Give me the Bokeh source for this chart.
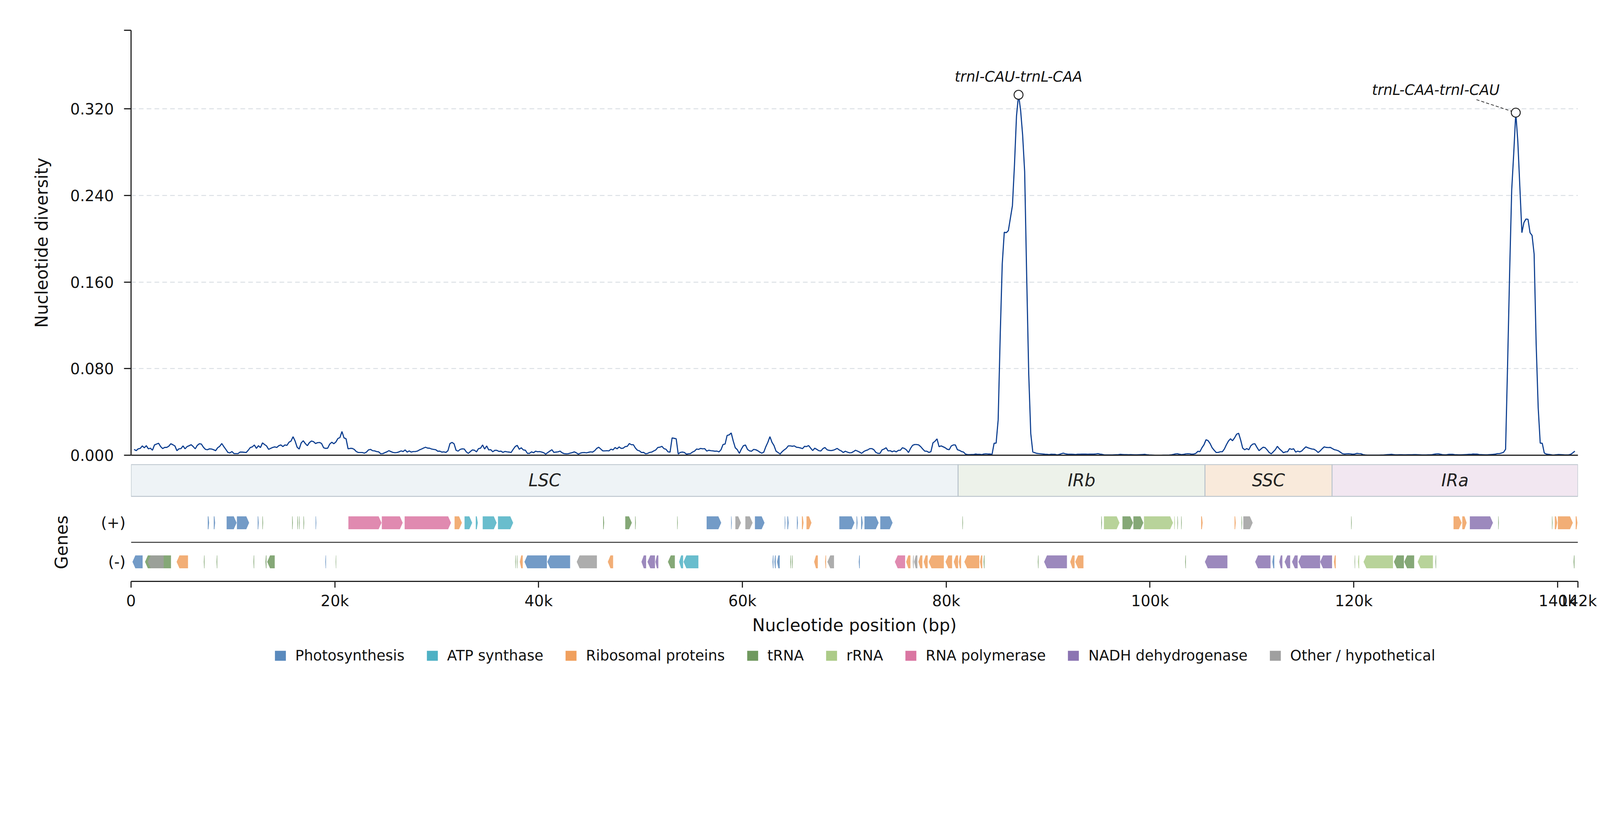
import numpy as np
from bokeh.core.properties import value
from bokeh.embed import file_html
from bokeh.layouts import column
from bokeh.models import (FixedTicker, Label, Legend, LegendItem,
                          NumeralTickFormatter, Range1d, Span)
from bokeh.plotting import figure
from bokeh.resources import INLINE

FONT = "DejaVu Sans"

### data

genome_len = 142000
win_first = 300      # centre of the first sliding window (bp)
win_step = 200       # window step (bp)

diversity = [
    # LSC 0-28k
    0.0054, 0.0042, 0.0059, 0.0063, 0.0086, 0.0069, 0.0088, 0.0059, 0.0065, 0.0046,
    0.0095, 0.0103, 0.0111, 0.0080, 0.0061, 0.0072, 0.0072, 0.0083, 0.0106, 0.0097,
    0.0086, 0.0042, 0.0059, 0.0061, 0.0086, 0.0059, 0.0080, 0.0088, 0.0097, 0.0080,
    0.0059, 0.0091, 0.0106, 0.0103, 0.0074, 0.0054, 0.0051, 0.0059, 0.0057, 0.0051,
    0.0042, 0.0069, 0.0082, 0.0108, 0.0080, 0.0054, 0.0026, 0.0021, 0.0034, 0.0015,
    0.0015, 0.0015, 0.0029, 0.0029, 0.0027, 0.0025, 0.0046, 0.0071, 0.0077, 0.0095,
    0.0063, 0.0088, 0.0071, 0.0114, 0.0099, 0.0086, 0.0054, 0.0063, 0.0072, 0.0077,
    0.0072, 0.0088, 0.0095, 0.0080, 0.0095, 0.0091, 0.0120, 0.0131, 0.0171, 0.0131,
    0.0074, 0.0057, 0.0114, 0.0134, 0.0108, 0.0088, 0.0116, 0.0131, 0.0126, 0.0108,
    0.0116, 0.0118, 0.0108, 0.0069, 0.0063, 0.0065, 0.0103, 0.0120, 0.0106, 0.0122,
    0.0154, 0.0163, 0.0219, 0.0160, 0.0152, 0.0059, 0.0063, 0.0063, 0.0054, 0.0034,
    0.0025, 0.0025, 0.0025, 0.0019, 0.0029, 0.0049, 0.0054, 0.0042, 0.0040, 0.0034,
    0.0031, 0.0014, 0.0015, 0.0023, 0.0031, 0.0042, 0.0034, 0.0026, 0.0023, 0.0025,
    0.0031, 0.0040, 0.0034, 0.0049, 0.0029, 0.0040, 0.0029, 0.0034, 0.0034, 0.0038,
    0.0049,
    # LSC 28.5k-56.5k
    0.0057, 0.0066, 0.0074, 0.0066, 0.0065, 0.0057, 0.0054, 0.0051, 0.0037, 0.0038,
    0.0029, 0.0031, 0.0026, 0.0042, 0.0108, 0.0118, 0.0106, 0.0045, 0.0038, 0.0054,
    0.0059, 0.0057, 0.0031, 0.0017, 0.0034, 0.0049, 0.0046, 0.0031, 0.0061, 0.0065,
    0.0095, 0.0057, 0.0086, 0.0049, 0.0051, 0.0032, 0.0045, 0.0045, 0.0035, 0.0038,
    0.0026, 0.0035, 0.0031, 0.0029, 0.0025, 0.0054, 0.0080, 0.0091, 0.0055, 0.0069,
    0.0049, 0.0046, 0.0017, 0.0017, 0.0031, 0.0023, 0.0037, 0.0032, 0.0034, 0.0029,
    0.0023, 0.0010, 0.0025, 0.0038, 0.0051, 0.0026, 0.0029, 0.0031, 0.0038, 0.0023,
    0.0015, 0.0013, 0.0014, 0.0019, 0.0024, 0.0031, 0.0022, 0.0010, 0.0019, 0.0024,
    0.0025, 0.0022, 0.0027, 0.0031, 0.0029, 0.0042, 0.0063, 0.0074, 0.0057, 0.0040,
    0.0040, 0.0042, 0.0040, 0.0056, 0.0049, 0.0071, 0.0059, 0.0077, 0.0063, 0.0065,
    0.0080, 0.0082, 0.0108, 0.0097, 0.0097, 0.0066, 0.0046, 0.0040, 0.0025, 0.0026,
    0.0013, 0.0017, 0.0026, 0.0029, 0.0040, 0.0049, 0.0072, 0.0074, 0.0082, 0.0061,
    0.0055, 0.0031, 0.0029, 0.0160, 0.0156, 0.0152, 0.0011, 0.0026, 0.0029, 0.0026,
    0.0010, 0.0013, 0.0015, 0.0029, 0.0038, 0.0057, 0.0054, 0.0063, 0.0059, 0.0061,
    0.0038,
    # LSC 56.7k-84.5k
    0.0046, 0.0042, 0.0040, 0.0037, 0.0038, 0.0031, 0.0051, 0.0099, 0.0103, 0.0183,
    0.0188, 0.0206, 0.0131, 0.0069, 0.0051, 0.0017, 0.0057, 0.0088, 0.0094, 0.0054,
    0.0040, 0.0037, 0.0054, 0.0051, 0.0042, 0.0029, 0.0019, 0.0029, 0.0079, 0.0120,
    0.0171, 0.0120, 0.0089, 0.0038, 0.0025, 0.0011, 0.0033, 0.0049, 0.0063, 0.0086,
    0.0086, 0.0083, 0.0086, 0.0074, 0.0072, 0.0067, 0.0061, 0.0082, 0.0080, 0.0089,
    0.0065, 0.0043, 0.0065, 0.0054, 0.0042, 0.0039, 0.0061, 0.0071, 0.0051, 0.0045,
    0.0043, 0.0046, 0.0053, 0.0063, 0.0049, 0.0040, 0.0025, 0.0037, 0.0029, 0.0022,
    0.0023, 0.0033, 0.0046, 0.0038, 0.0029, 0.0017, 0.0033, 0.0043, 0.0049, 0.0061,
    0.0061, 0.0051, 0.0026, 0.0017, 0.0017, 0.0049, 0.0057, 0.0069, 0.0040, 0.0042,
    0.0032, 0.0040, 0.0031, 0.0045, 0.0046, 0.0069, 0.0063, 0.0049, 0.0025, 0.0063,
    0.0091, 0.0099, 0.0099, 0.0095, 0.0079, 0.0057, 0.0038, 0.0037, 0.0026, 0.0033,
    0.0114, 0.0129, 0.0151, 0.0079, 0.0086, 0.0078, 0.0069, 0.0055, 0.0051, 0.0086,
    0.0095, 0.0095, 0.0051, 0.0045, 0.0034, 0.0029, 0.0010, 0.0006, 0.0006, 0.0007,
    0.0007, 0.0011, 0.0008, 0.0008, 0.0006, 0.0011, 0.0013, 0.0011, 0.0011, 0.0008,
    # IRb peak 84.7k-88.5k
    0.0110, 0.0112, 0.0326, 0.1100, 0.1766, 0.2060, 0.2056, 0.2075, 0.2190, 0.2306,
    0.2680, 0.3134, 0.3330, 0.3190, 0.2960, 0.2620, 0.1650, 0.0750, 0.0200, 0.0030,
    # IRb / SSC 88.7k-113.3k
    0.0023, 0.0017, 0.0015, 0.0013, 0.0011, 0.0009, 0.0008, 0.0006, 0.0009, 0.0008,
    0.0008, 0.0003, 0.0008, 0.0014, 0.0019, 0.0013, 0.0010, 0.0009, 0.0009, 0.0008,
    0.0007, 0.0009, 0.0009, 0.0010, 0.0010, 0.0010, 0.0009, 0.0010, 0.0010, 0.0010,
    0.0012, 0.0015, 0.0010, 0.0008, 0.0004, 0.0003, 0.0003, 0.0003, 0.0003, 0.0004,
    0.0005, 0.0006, 0.0008, 0.0007, 0.0006, 0.0006, 0.0005, 0.0006, 0.0005, 0.0004,
    0.0004, 0.0005, 0.0006, 0.0007, 0.0008, 0.0005, 0.0003, 0.0002, 0.0001, 0.0000,
    0.0000, 0.0000, 0.0000, 0.0001, 0.0001, 0.0001, 0.0002, 0.0004, 0.0008, 0.0012,
    0.0014, 0.0009, 0.0006, 0.0008, 0.0012, 0.0014, 0.0013, 0.0009, 0.0011, 0.0017,
    0.0036, 0.0033, 0.0069, 0.0097, 0.0143, 0.0135, 0.0108, 0.0069, 0.0046, 0.0025,
    0.0026, 0.0032, 0.0032, 0.0057, 0.0097, 0.0131, 0.0152, 0.0134, 0.0160, 0.0194,
    0.0203, 0.0140, 0.0065, 0.0050, 0.0061, 0.0050, 0.0088, 0.0103, 0.0106, 0.0072,
    0.0042, 0.0058, 0.0074, 0.0070, 0.0049, 0.0025, 0.0013, 0.0032, 0.0051, 0.0082,
    0.0059, 0.0042, 0.0023, 0.0031,
    # SSC / IRa 113.5k-134.5k
    0.0032, 0.0061, 0.0054, 0.0060, 0.0029, 0.0038, 0.0031, 0.0040, 0.0060, 0.0077,
    0.0069, 0.0063, 0.0057, 0.0055, 0.0043, 0.0025, 0.0040, 0.0060, 0.0077, 0.0072,
    0.0071, 0.0072, 0.0061, 0.0051, 0.0047, 0.0040, 0.0027, 0.0014, 0.0011, 0.0013,
    0.0014, 0.0012, 0.0009, 0.0011, 0.0017, 0.0015, 0.0014, 0.0006, 0.0003, 0.0001,
    0.0001, 0.0001, 0.0001, 0.0001, 0.0001, 0.0001, 0.0002, 0.0002, 0.0004, 0.0006,
    0.0007, 0.0008, 0.0006, 0.0004, 0.0004, 0.0005, 0.0005, 0.0004, 0.0004, 0.0005,
    0.0005, 0.0005, 0.0006, 0.0006, 0.0005, 0.0004, 0.0003, 0.0003, 0.0003, 0.0004,
    0.0004, 0.0006, 0.0009, 0.0012, 0.0013, 0.0009, 0.0006, 0.0004, 0.0005, 0.0008,
    0.0008, 0.0008, 0.0006, 0.0005, 0.0004, 0.0004, 0.0005, 0.0006, 0.0007, 0.0008,
    0.0008, 0.0011, 0.0010, 0.0010, 0.0007, 0.0006, 0.0005, 0.0004, 0.0004, 0.0006,
    0.0007, 0.0008, 0.0010, 0.0015, 0.0015, 0.0020,
    # IRa peak 134.7k-138.7k
    0.0027, 0.0055, 0.0850, 0.1700, 0.2450, 0.2790, 0.3165, 0.2900, 0.2480, 0.2056,
    0.2150, 0.2182, 0.2180, 0.2056, 0.2030, 0.1860, 0.1030, 0.0440, 0.0112, 0.0110,
    0.0020,
    # IRa end
    0.0011, 0.0008, 0.0006, 0.0002, 0.0003, 0.0005, 0.0007, 0.0006, 0.0005, 0.0003,
    0.0003, 0.0004, 0.0009, 0.0022, 0.0038,
]

region_names = ["LSC", "IRb", "SSC", "IRa"]
region_start = [0, 81170, 105400, 117870]
region_end = [81170, 105400, 117870, 142000]
region_fill = ["#eef3f6", "#edf2ea", "#f9eadb", "#f2e7f1"]

categories = ["Photosynthesis", "ATP synthase", "Ribosomal proteins", "tRNA",
              "rRNA", "RNA polymerase", "NADH dehydrogenase", "Other / hypothetical"]
cat_codes = ["PS", "ATP", "RP", "TRNA", "RRNA", "RPO", "NDH", "OTH"]
cat_colors = ["#5a8abd", "#4fb1c4", "#f0a05e", "#70995f",
              "#accb88", "#da76a2", "#8b74b2", "#9f9f9f"]

plus_start = [7530, 8120, 9380, 10390, 12430, 12890, 15810, 16330, 16500, 16920,
              18110, 21330, 24610, 26850, 31750, 32730, 33830, 34510, 36010, 46330,
              48500, 49470, 53600, 56490, 58890, 59310, 60290, 61230, 64150, 64410,
              65350, 65840, 66290, 69510, 71200, 71650, 71980, 73530, 81590, 95220,
              95480, 97300, 98370, 99410, 102380, 102690, 103060, 105020, 108300, 108980,
              109160, 119740, 129790, 130650, 131390, 134180, 139450, 139730, 140030, 141780]
plus_end = [7660, 8250, 10360, 11590, 12530, 12960, 15880, 16400, 16560, 16990,
            18180, 24580, 26660, 31400, 32470, 33480, 34030, 35880, 37500, 46430,
            49150, 49540, 53660, 57920, 58960, 59860, 61000, 62170, 64220, 64540,
            65450, 66000, 66780, 71000, 71300, 71810, 73370, 74740, 81650, 95290,
            97010, 98340, 99350, 102260, 102450, 102750, 103120, 105170, 108420, 109040,
            110080, 119800, 130590, 131080, 133660, 134240, 139510, 139970, 141500, 141950]
plus_cat = ["PS", "PS", "PS", "PS", "PS", "TRNA", "TRNA", "TRNA", "TRNA", "TRNA",
            "PS", "RPO", "RPO", "RPO", "RP", "ATP", "ATP", "ATP", "ATP", "TRNA",
            "TRNA", "TRNA", "TRNA", "PS", "PS", "OTH", "OTH", "PS", "PS", "PS",
            "PS", "RP", "RP", "PS", "PS", "PS", "PS", "PS", "TRNA", "TRNA",
            "RRNA", "TRNA", "TRNA", "RRNA", "RRNA", "TRNA", "TRNA", "RP", "RP", "TRNA",
            "OTH", "TRNA", "RP", "RP", "NDH", "TRNA", "TRNA", "RP", "RP", "RP"]

minus_start = [140, 1370, 1645, 4470, 7140, 8390, 12010, 13190, 13360, 19060,
               20080, 37700, 37860, 38150, 38610, 40850, 43740, 46790, 50090, 50680,
               51460, 52690, 53790, 54220, 62950, 63140, 63400, 64700, 64860, 67040,
               68110, 68340, 71420, 74960, 76070, 76720, 76850, 77270, 77790, 78280,
               79930, 80740, 81230, 81780, 83310, 83670, 88990, 89610, 92170, 92660,
               103450, 105390, 110320, 112010, 112690, 113210, 113940, 114560, 116700, 118050,
               120080, 120410, 120960, 123940, 124950, 126270, 128010, 141570]
minus_end = [1135, 3920, 3200, 5590, 7210, 8460, 12080, 13290, 14100, 19130,
             20130, 37760, 37920, 38440, 40810, 43090, 45720, 47310, 50550, 51420,
             51750, 53370, 54180, 55680, 63050, 63270, 63660, 64770, 64930, 67400,
             68210, 68990, 71520, 75970, 76490, 76810, 77170, 77660, 78180, 79770,
             80580, 81170, 81460, 83250, 83540, 83760, 89060, 91850, 92600, 93470,
             103520, 107600, 111830, 112200, 112990, 113760, 114490, 116700, 117870, 118230,
             120130, 120530, 123850, 124920, 125930, 127770, 128080, 141660]
minus_cat = ["PS", "TRNA", "OTH", "RP", "TRNA", "TRNA", "TRNA", "TRNA", "TRNA", "PS",
             "TRNA", "TRNA", "TRNA", "RP", "PS", "PS", "OTH", "RP", "NDH", "NDH",
             "NDH", "TRNA", "ATP", "ATP", "PS", "PS", "PS", "TRNA", "TRNA", "RP",
             "RP", "OTH", "PS", "RPO", "RP", "OTH", "OTH", "RP", "RP", "RP",
             "RP", "RP", "RP", "RP", "RP", "TRNA", "TRNA", "NDH", "RP", "RP",
             "TRNA", "NDH", "NDH", "PS", "NDH", "NDH", "NDH", "NDH", "NDH", "RP",
             "TRNA", "RRNA", "RRNA", "TRNA", "TRNA", "RRNA", "TRNA", "TRNA"]

x_ticks = [0, 20000, 40000, 60000, 80000, 100000, 120000, 140000, 142000]
x_tick_labels = ["0", "20k", "40k", "60k", "80k", "100k", "120k", "140k", "142k"]
y_ticks = [0.0, 0.08, 0.16, 0.24, 0.32]

peak_labels = ["trnI-CAU-trnL-CAA", "trnL-CAA-trnI-CAU"]
peak_label_x = [87100, 128050]
peak_label_y = [0.3495, 0.3375]
leader_start = (132040, 0.3285)

### layout constants (CSS px)

FRAME_W = 3704
LEFT = 335
RIGHT = 49
Y_MAX = 0.3926
AXIS_COLOR = "#222222"
TEXT_COLOR = "#111111"
TICK_FS = "39px"
TITLE_FS = "43.6px"

pos = win_first + win_step * np.arange(len(diversity))
div = np.array(diversity)

xr = Range1d(0, genome_len)


def style_common(p):
    p.outline_line_color = None
    p.background_fill_color = "white"
    p.border_fill_color = "white"


### diversity panel

pa = figure(frame_width=FRAME_W, frame_height=1088, x_range=xr,
            y_range=Range1d(0, Y_MAX), output_backend="svg",
            toolbar_location=None, min_border_left=LEFT,
            min_border_right=RIGHT, min_border_top=77, min_border_bottom=23)
style_common(pa)

pa.xaxis.ticker = FixedTicker(ticks=[])
pa.xaxis.major_label_text_font_size = "0px"
pa.xaxis.major_label_standoff = 0
pa.xaxis.major_tick_out = 0
pa.xaxis.minor_tick_out = 0
pa.xaxis.axis_line_width = 2.9
pa.xaxis.axis_line_color = AXIS_COLOR

pa.yaxis.ticker = FixedTicker(ticks=y_ticks + [Y_MAX])
pa.yaxis.formatter = NumeralTickFormatter(format="0.000")
pa.yaxis.major_label_overrides = {Y_MAX: ""}
pa.yaxis.minor_tick_line_color = None
pa.yaxis.major_tick_out = 18
pa.yaxis.major_tick_in = 0
pa.yaxis.major_tick_line_width = 2.9
pa.yaxis.major_tick_line_color = AXIS_COLOR
pa.yaxis.axis_line_width = 2.9
pa.yaxis.axis_line_color = AXIS_COLOR
pa.yaxis.major_label_text_font = FONT
pa.yaxis.major_label_text_font_size = TICK_FS
pa.yaxis.major_label_text_color = TEXT_COLOR
pa.yaxis.major_label_standoff = 26
pa.yaxis.axis_label = "Nucleotide diversity"
pa.yaxis.axis_label_text_font = FONT
pa.yaxis.axis_label_text_font_size = TITLE_FS
pa.yaxis.axis_label_text_font_style = "normal"
pa.yaxis.axis_label_text_color = TEXT_COLOR
pa.yaxis.axis_label_standoff = 45

pa.xgrid.visible = False
pa.ygrid.ticker = FixedTicker(ticks=y_ticks[1:])
pa.ygrid.grid_line_color = "#d3d9df"
pa.ygrid.grid_line_width = 1.9
pa.ygrid.grid_line_dash = "12 8"

pa.line(pos, div, line_color="#0b3d8f", line_width=2.85)

# highest window on each inverted repeat
split = region_end[2] - (region_end[2] - region_start[2]) // 2
i1 = int(np.argmax(np.where(pos < split, div, -1)))
i2 = int(np.argmax(np.where(pos >= split, div, -1)))

pa.line([leader_start[0], pos[i2]], [leader_start[1], div[i2]],
        line_color="#333333", line_width=1.9, line_dash="8 5")
pa.scatter([pos[i1], pos[i2]], [div[i1], div[i2]], marker="circle", size=23,
           fill_color="white", line_color="#222222", line_width=2.4)

for txt, lx, ly in zip(peak_labels, peak_label_x, peak_label_y):
    pa.add_layout(Label(x=lx, y=ly, text=txt, text_font=FONT,
                        text_font_size="36.7px", text_font_style="italic",
                        text_align="center", text_baseline="alphabetic",
                        text_color=TEXT_COLOR))

### region bar

pb = figure(frame_width=FRAME_W, frame_height=84, x_range=xr,
            y_range=Range1d(-0.02, 1.01), output_backend="svg",
            toolbar_location=None, x_axis_location=None, y_axis_location=None,
            min_border_left=LEFT, min_border_right=RIGHT,
            min_border_top=0, min_border_bottom=8)
style_common(pb)
pb.grid.visible = False

pb.quad(left=region_start, right=region_end, bottom=0, top=1,
        fill_color=region_fill, line_color="#bac4cc", line_width=2.4)
centres = [(s + e) / 2 for s, e in zip(region_start, region_end)]
pb.text(x=centres, y=[0.5] * len(centres), text=region_names,
        text_font=value(FONT), text_font_size=TITLE_FS,
        text_font_style="italic", text_align="center",
        text_baseline="middle", text_color="#222222")

### gene track

pc = figure(frame_width=FRAME_W, frame_height=200, x_range=xr,
            y_range=Range1d(-0.5, 1.5), output_backend="svg",
            toolbar_location=None, min_border_left=LEFT,
            min_border_right=RIGHT, min_border_top=8, min_border_bottom=152)
style_common(pc)
pc.grid.visible = False

tip_max = 280
half_h = 0.165


def arrows(starts, ends, cats, strand, code):
    xs, ys = [], []
    row = 1 if strand > 0 else 0
    for s, e, c in zip(starts, ends, cats):
        if c != code:
            continue
        tip = min(tip_max, 0.5 * (e - s))
        if strand > 0:
            xs.append([s, e - tip, e, e - tip, s])
        else:
            xs.append([e, s + tip, s, s + tip, e])
        ys.append([row - half_h, row - half_h, row, row + half_h, row + half_h])
    return xs, ys


draw_order = ["TRNA", "RRNA", "PS", "ATP", "RP", "RPO", "NDH", "OTH"]
for code in draw_order:
    col = cat_colors[cat_codes.index(code)]
    for starts, ends, cats, strand in ((plus_start, plus_end, plus_cat, 1),
                                       (minus_start, minus_end, minus_cat, -1)):
        xs, ys = arrows(starts, ends, cats, strand, code)
        if xs:
            pc.patches(xs, ys, fill_color=col, fill_alpha=0.85, line_color=None)

pc.add_layout(Span(location=0.5, dimension="width", line_color="#333333",
                   line_width=2.4))

pc.xaxis.ticker = FixedTicker(ticks=x_ticks)
pc.xaxis.major_label_overrides = dict(zip(x_ticks, x_tick_labels))
pc.xaxis.minor_tick_line_color = None
pc.xaxis.major_tick_out = 16
pc.xaxis.major_tick_in = 0
pc.xaxis.major_tick_line_width = 2.9
pc.xaxis.major_tick_line_color = AXIS_COLOR
pc.xaxis.axis_line_width = 2.9
pc.xaxis.axis_line_color = AXIS_COLOR
pc.xaxis.major_label_text_font = FONT
pc.xaxis.major_label_text_font_size = TICK_FS
pc.xaxis.major_label_text_color = TEXT_COLOR
pc.xaxis.major_label_standoff = 11
pc.xaxis.axis_label = "Nucleotide position (bp)"
pc.xaxis.axis_label_text_font = FONT
pc.xaxis.axis_label_text_font_size = TITLE_FS
pc.xaxis.axis_label_text_font_style = "normal"
pc.xaxis.axis_label_text_color = TEXT_COLOR
pc.xaxis.axis_label_standoff = 12

pc.yaxis.ticker = FixedTicker(ticks=[0, 1])
pc.yaxis.major_label_overrides = {0: "(-)", 1: "(+)"}
pc.yaxis.axis_line_color = None
pc.yaxis.major_tick_line_color = None
pc.yaxis.minor_tick_line_color = None
pc.yaxis.major_tick_out = 0
pc.yaxis.major_label_text_font = FONT
pc.yaxis.major_label_text_font_size = TICK_FS
pc.yaxis.major_label_text_color = TEXT_COLOR
pc.yaxis.major_label_standoff = 14
pc.yaxis.axis_label = "Genes"
pc.yaxis.axis_label_text_font = FONT
pc.yaxis.axis_label_text_font_size = TITLE_FS
pc.yaxis.axis_label_text_font_style = "normal"
pc.yaxis.axis_label_text_color = TEXT_COLOR
pc.yaxis.axis_label_standoff = 72

### legend strip

pd = figure(frame_width=FRAME_W, frame_height=76, x_range=xr,
            y_range=Range1d(0, 1), output_backend="svg",
            toolbar_location=None, x_axis_location=None, y_axis_location=None,
            min_border_left=LEFT, min_border_right=RIGHT,
            min_border_top=0, min_border_bottom=10)
style_common(pd)
pd.grid.visible = False

items = []
for name, col in zip(categories, cat_colors):
    # placeholder renderer: only its swatch is shown in the legend
    r = pd.quad(left=[np.nan], right=[np.nan], bottom=[np.nan], top=[np.nan],
                fill_color=col, line_color=None)
    items.append(LegendItem(label=name, renderers=[r]))

legend = Legend(items=items, orientation="horizontal", location="center",
                glyph_width=35, glyph_height=32, label_standoff=21, spacing=53,
                label_text_font=FONT, label_text_font_size="37px",
                label_text_color=TEXT_COLOR, border_line_color=None,
                background_fill_alpha=0, padding=0, margin=0)
pd.add_layout(legend)

layout = column(pa, pb, pc, pd)
open("out.html", "w").write(file_html(layout, INLINE))
